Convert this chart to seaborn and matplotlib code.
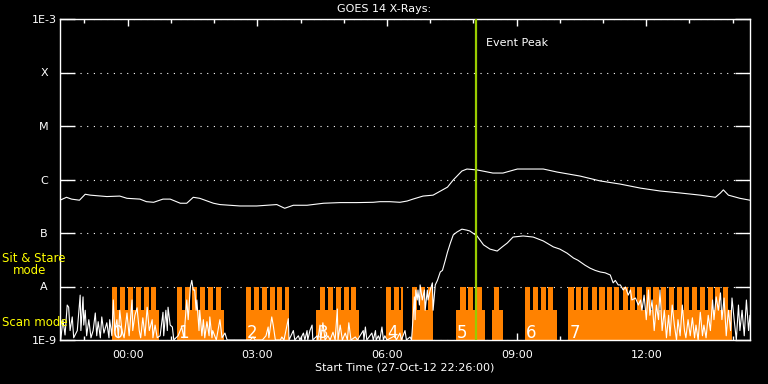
import pandas as pd
import seaborn as sns
import matplotlib.pyplot as plt
import matplotlib.dates as mdates
from matplotlib.ticker import FixedLocator, FixedFormatter, NullLocator

# start of plotted interval; all times below are minutes after this
start = pd.Timestamp("2012-10-27 22:26:00")
span_min = 958

# GOES 14 long channel (1-8 A), W/m^2
long_min = [0, 9, 16, 27, 35, 42, 65, 83, 93, 111, 120, 130, 143, 153, 167, 176, 185, 194,
            213, 222, 250, 273, 301, 312, 324, 343, 366, 389, 412, 435, 444, 458, 472, 482,
            490, 504, 518, 538, 546, 558, 565, 579, 601, 615, 635, 671, 690, 722, 750, 778,
            806, 833, 861, 889, 910, 917, 921, 928, 944, 958]
long_flux = [4.1e-7, 4.65e-7, 4.3e-7, 4.1e-7, 5.3e-7, 5.1e-7, 4.8e-7, 4.9e-7, 4.45e-7, 4.3e-7,
             3.85e-7, 3.75e-7, 4.3e-7, 4.3e-7, 3.6e-7, 3.6e-7, 4.65e-7, 4.45e-7, 3.6e-7, 3.4e-7,
             3.2e-7, 3.2e-7, 3.4e-7, 2.9e-7, 3.3e-7, 3.3e-7, 3.6e-7, 3.7e-7, 3.7e-7, 3.75e-7,
             3.85e-7, 3.85e-7, 3.75e-7, 3.96e-7, 4.3e-7, 4.9e-7, 5.1e-7, 7.2e-7, 9.8e-7, 1.44e-6,
             1.57e-6, 1.51e-6, 1.32e-6, 1.32e-6, 1.57e-6, 1.57e-6, 1.38e-6, 1.16e-6, 9.4e-7, 8.2e-7,
             6.9e-7, 6.1e-7, 5.6e-7, 5.1e-7, 4.65e-7, 5.6e-7, 6.4e-7, 5.1e-7, 4.45e-7, 4.1e-7]

# GOES 14 short channel (0.5-4 A), W/m^2
short_min = [0, 1, 4, 7, 10, 12, 14, 17, 19, 24, 28, 29, 32, 33, 35, 37, 40, 43, 46, 49, 51, 53,
             56, 58, 61, 65, 68, 69, 72, 74, 76, 79, 81, 83, 86, 89, 93, 96, 100, 101, 104, 107,
             110, 112, 115, 118, 121, 124, 128, 129, 132, 135, 139, 143, 144, 147, 149, 150, 153,
             156, 158, 161, 164, 167, 169, 172, 176, 178, 181, 183, 185, 187, 189, 190, 193, 194,
             197, 199, 201, 204, 207, 208, 211, 212, 217, 222, 225, 229, 232, 264, 268, 271, 281,
             286, 289, 290, 294, 296, 299, 306, 308, 311, 317, 318, 324, 326, 331, 333, 338, 340,
             343, 344, 347, 350, 351, 357, 358, 361, 362, 365, 368, 372, 375, 379, 382, 385, 386,
             389, 392, 396, 399, 401, 404, 410, 413, 421, 422, 424, 426, 433, 435, 438, 439, 442,
             444, 447, 449, 451, 454, 465, 467, 472, 474, 479, 481, 486, 488, 489, 492, 493, 494,
             496, 497, 499, 500, 503, 506, 507, 510, 511, 514, 517, 518, 521, 524, 528, 531, 535,
             538, 542, 546, 551, 558, 565, 569, 579, 588, 597, 607, 614, 621, 629, 643, 657, 671,
             685, 694, 704, 713, 719, 729, 736, 743, 750, 757, 764, 768, 771, 775, 778, 782, 785,
             789, 792, 794, 799, 803, 806, 808, 811, 814, 817, 819, 822, 825, 828, 831, 833, 836,
             839, 842, 845, 847, 850, 853, 856, 858, 861, 864, 867, 869, 872, 875, 878, 881, 883,
             886, 889, 892, 894, 897, 900, 903, 906, 908, 911, 914, 917, 919, 922, 925, 928, 931,
             933, 936, 939, 942, 944, 947, 950, 953, 956, 958]
short_flux = [1.9e-9, 1.0e-9, 2.4e-9, 1.24e-9, 4.5e-9, 4.1e-9, 1.5e-9, 2.7e-9, 1.1e-9, 1.5e-9,
              6.9e-9, 1.5e-9, 6.4e-9, 1.9e-9, 3.6e-9, 1.2e-9, 2.4e-9, 1.1e-9, 1.5e-9, 3.2e-9,
              1.2e-9, 2.2e-9, 1.1e-9, 2.7e-9, 1.35e-9, 2.1e-9, 1.1e-9, 2.4e-9, 1.2e-9, 5.6e-9,
              1.5e-9, 2.4e-9, 1.1e-9, 3.6e-9, 1.5e-9, 1.1e-9, 3.2e-9, 1.2e-9, 5.6e-9, 1.5e-9,
              2.9e-9, 4.0e-9, 1.5e-9, 1.1e-9, 2.6e-9, 1.2e-9, 4.1e-9, 1.5e-9, 2.4e-9, 1.1e-9,
              1.9e-9, 1.1e-9, 1.2e-9, 3.3e-9, 1.2e-9, 3.6e-9, 1.5e-9, 4.1e-9, 1.9e-9, 1.75e-9,
              1.0e-9, 1.1e-9, 1.2e-9, 1.5e-9, 1.75e-9, 1.1e-9, 5.6e-9, 2.4e-9, 9.8e-9, 1.3e-8,
              8.6e-9, 8.6e-9, 3.6e-9, 5.6e-9, 1.5e-9, 3.6e-9, 1.2e-9, 2.4e-9, 1.1e-9, 2.2e-9,
              1.2e-9, 2.7e-9, 1.1e-9, 1.5e-9, 1.0e-9, 2.4e-9, 1.1e-9, 1.35e-9, 1.0e-9, 1.0e-9,
              1.14e-9, 1.0e-9, 1.0e-9, 1.2e-9, 1.75e-9, 1.1e-9, 2.7e-9, 1.9e-9, 1.0e-9, 1.0e-9,
              1.14e-9, 1.0e-9, 2.5e-9, 1.0e-9, 1.5e-9, 1.0e-9, 1.2e-9, 1.0e-9, 1.35e-9, 1.0e-9,
              1.5e-9, 1.0e-9, 1.5e-9, 1.9e-9, 1.0e-9, 1.2e-9, 1.0e-9, 1.9e-9, 1.0e-9, 2.1e-9,
              1.0e-9, 1.2e-9, 1.0e-9, 1.4e-9, 1.0e-9, 3.8e-9, 1.0e-9, 1.9e-9, 1.0e-9, 1.35e-9,
              1.0e-9, 2.1e-9, 1.0e-9, 1.14e-9, 1.0e-9, 1.5e-9, 1.0e-9, 1.75e-9, 1.0e-9, 1.35e-9,
              1.0e-9, 1.5e-9, 1.0e-9, 1.2e-9, 1.0e-9, 1.75e-9, 1.0e-9, 1.2e-9, 1.0e-9, 1.2e-9,
              1.0e-9, 1.35e-9, 1.0e-9, 1.5e-9, 1.0e-9, 1.14e-9, 1.0e-9, 1.5e-9, 6.4e-9, 2.4e-9,
              8.6e-9, 5.6e-9, 8.6e-9, 4.5e-9, 1.07e-8, 5.6e-9, 8.6e-9, 3.6e-9, 8.6e-9, 5.6e-9,
              8.6e-9, 1.17e-8, 3.6e-9, 1.07e-8, 1.3e-8, 1.87e-8, 2.0e-8, 3.1e-8, 4.4e-8, 6.5e-8,
              9.2e-8, 1.04e-7, 1.18e-7, 1.13e-7, 1.09e-7, 8.8e-8, 6.0e-8, 5.0e-8, 4.6e-8, 5.5e-8,
              6.5e-8, 8.4e-8, 8.8e-8, 8.4e-8, 7.1e-8, 5.5e-8, 5.0e-8, 4.2e-8, 3.4e-8, 3.1e-8,
              2.5e-8, 2.2e-8, 2.0e-8, 1.87e-8, 1.8e-8, 1.64e-8, 1.17e-8, 1.3e-8, 1.07e-8, 1.07e-8,
              8.6e-9, 9.8e-9, 6.9e-9, 8.6e-9, 5.6e-9, 6.1e-9, 4.5e-9, 5.6e-9, 3.6e-9, 6.9e-9,
              2.4e-9, 8.6e-9, 2.9e-9, 5.6e-9, 1.5e-9, 4.5e-9, 2.4e-9, 8.6e-9, 1.5e-9, 3.6e-9,
              1.1e-9, 2.9e-9, 1.2e-9, 4.5e-9, 1.9e-9, 1.0e-9, 2.4e-9, 1.2e-9, 4.5e-9, 1.5e-9,
              1.1e-9, 2.4e-9, 1.2e-9, 2.6e-9, 1.1e-9, 1.9e-9, 1.0e-9, 3.3e-9, 1.2e-9, 1.9e-9,
              1.1e-9, 2.9e-9, 1.5e-9, 5.6e-9, 2.4e-9, 6.4e-9, 3.6e-9, 7.6e-9, 2.4e-9, 6.1e-9,
              1.2e-9, 3.6e-9, 1.5e-9, 6.1e-9, 2.4e-9, 1.0e-9, 4.5e-9, 1.5e-9, 3.6e-9, 1.2e-9,
              5.6e-9, 1.5e-9, 2.9e-9]

# instrument observing blocks (minutes after start)
block_start = [72, 163, 258, 356, 453, 489, 550, 600, 646, 706]
block_end = [138, 228, 318, 415, 476, 518, 590, 615, 690, 933]
block_label = ["0", "1", "2", "3", "4", "", "5", "", "6", "7"]
block_teeth = [
    [72, 83, 94, 106, 116, 126],
    [163, 173, 183, 194, 206, 217],
    [258, 269, 281, 291, 301, 313],
    [361, 372, 383, 394, 404],
    [453, 464, 474],
    [489, 500, 511],
    [556, 567, 579],
    [603],
    [646, 657, 668, 678],
    [706, 717, 726, 738, 749, 760, 769, 781, 792, 801, 813, 824, 835, 845, 856, 867, 878,
     888, 899, 910, 921],
]
tooth_len = 7
scan_level = 3.6e-9
stare_level = 1e-8

peak_min = 578

levels = [1e-9, 1e-8, 1e-7, 1e-6, 1e-5, 1e-4, 1e-3]
level_names = ["1E-9", "A", "B", "C", "M", "X", "1E-3"]

orange = "#ff8200"


def tm(m):
    return start + pd.Timedelta(minutes=m)


sns.set_theme(style="ticks")
plt.rcParams["font.family"] = ["DejaVu Sans"]

fig = plt.figure(figsize=(7.68, 3.84), dpi=100, facecolor="black")
ax = fig.add_axes([60 / 768, 44 / 384, 690 / 768, 321 / 384])
ax.set_facecolor("black")
ax.set_yscale("log")

# observing-mode blocks
for s, e, teeth in zip(block_start, block_end, block_teeth):
    ax.fill_between([tm(s), tm(e)], 1e-9, scan_level, color=orange, lw=0, zorder=1)
    for t in teeth:
        ax.fill_between([tm(t), tm(min(t + tooth_len, e))], scan_level, stare_level,
                        color=orange, lw=0, zorder=1)
for s, lab in zip(block_start, block_label):
    ax.text(tm(s + 1.5), 1.1e-9, lab, color="white", fontsize=12, ha="left",
            va="baseline", zorder=2)

df_long = pd.DataFrame({"time": [tm(m) for m in long_min], "flux": long_flux})
df_short = pd.DataFrame({"time": [tm(m) for m in short_min], "flux": short_flux})
sns.lineplot(data=df_long, x="time", y="flux", ax=ax, color="white", linewidth=0.8,
             estimator=None, zorder=3)
sns.lineplot(data=df_short, x="time", y="flux", ax=ax, color="white", linewidth=0.8,
             estimator=None, zorder=3)

ax.axvline(tm(peak_min), color="#99cc00", linewidth=1.6, zorder=4)
ax.text(tm(peak_min + 14), 3.5e-4, "Event Peak", color="white", fontsize=8, va="center")

ax.set_ylim(1e-9, 1e-3)
ax.set_xlim(tm(0), tm(span_min))

ax.yaxis.set_major_locator(FixedLocator(levels))
ax.yaxis.set_major_formatter(FixedFormatter(level_names))
ax.yaxis.set_minor_locator(NullLocator())
ax.xaxis.set_major_locator(mdates.HourLocator(byhour=range(0, 24, 3)))
ax.xaxis.set_minor_locator(mdates.HourLocator())
ax.xaxis.set_major_formatter(mdates.DateFormatter("%H:%M"))

ax.grid(axis="y", which="major", color="white", linestyle=(0, (1, 5)), linewidth=0.8)
ax.set_axisbelow(True)

ax.tick_params(axis="y", which="major", direction="in", length=10.8, width=1,
               left=True, right=True, color="white", labelcolor="white", labelsize=8, pad=11.5)
for lab in ax.get_yticklabels():
    lab.set_horizontalalignment("center")
ax.tick_params(axis="x", which="major", direction="in", length=5, width=1,
               top=True, bottom=True, color="white", labelcolor="white", labelsize=8, pad=7)
ax.tick_params(axis="x", which="minor", direction="in", length=3, width=1,
               top=True, bottom=True, color="white")
for sp in ax.spines.values():
    sp.set_color("white")
    sp.set_linewidth(1)
    sp.set_visible(True)

ax.set_ylabel("")
ax.set_xlabel("Start Time (27-Oct-12 22:26:00)", color="white", fontsize=8, labelpad=2)

fig.text(0.5, 1 - 9 / 384, "GOES 14 X-Rays:", color="white", fontsize=8,
         ha="center", va="center")
fig.text(2 / 768, 1 - 259 / 384, "Sit & Stare", color="yellow", fontsize=8.5,
         ha="left", va="center")
fig.text(13 / 768, 1 - 271 / 384, "mode", color="yellow", fontsize=8.5,
         ha="left", va="center")
fig.text(2 / 768, 1 - 323 / 384, "Scan mode", color="yellow", fontsize=8.5,
         ha="left", va="center")

fig.savefig("out.png", dpi=100, facecolor="black")
plt.close(fig)
